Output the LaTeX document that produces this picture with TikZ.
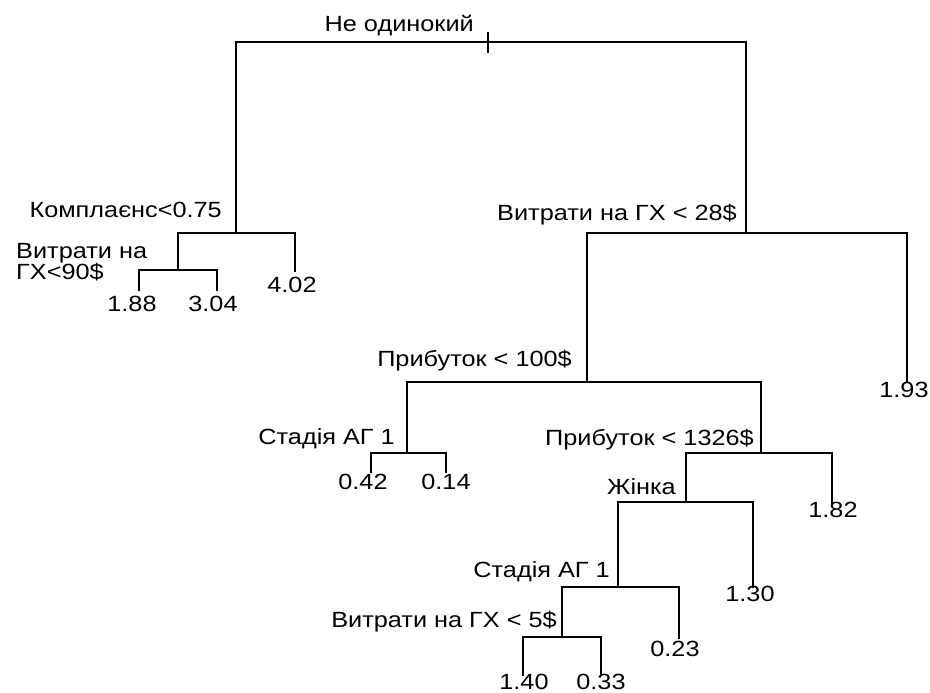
\documentclass[tikz,border=0pt]{standalone}
\usepackage{fontspec}
\setmainfont[FakeStretch=1.15]{Liberation Sans}
\begin{document}
\begin{tikzpicture}[x=1pt,y=-1pt,line cap=rect,line join=miter,
	cond/.style={inner sep=0pt,font=\fontsize{22pt}{21pt}\selectfont},
	leaf/.style={inner sep=0pt,font=\fontsize{22pt}{21pt}\selectfont},
	edge/.style={line width=1.5pt,color=black}]
	\useasboundingbox (0,0) rectangle (930,693);
	% split points
	\coordinate (root) at (488,42);
	\coordinate (n1) at (236,233);
	\coordinate (n2) at (178,270);
	\coordinate (n3) at (746,233);
	\coordinate (n4) at (587,382);
	\coordinate (n5) at (407,453);
	\coordinate (n6) at (761,453);
	\coordinate (n7) at (686,502);
	\coordinate (n8) at (618,587);
	\coordinate (n9) at (562,637);
	% leaf ends
	\coordinate (l188) at (139,290);
	\coordinate (l304) at (217,290);
	\coordinate (l402) at (295,271);
	\coordinate (l193) at (907,382);
	\coordinate (l042) at (371,472);
	\coordinate (l014) at (446,472);
	\coordinate (l182) at (832,503);
	\coordinate (l130) at (753,587);
	\coordinate (l023) at (679,638);
	\coordinate (l140) at (523,675);
	\coordinate (l033) at (601,675);
	% branches
	\foreach \p/\c in {root/n1,root/n3,n1/n2,n1/l402,n2/l188,n2/l304,
		n3/n4,n3/l193,n4/n5,n4/n6,n5/l042,n5/l014,n6/n7,n6/l182,
		n7/n8,n7/l130,n8/n9,n8/l023,n9/l140,n9/l033}
	\draw[edge] (\p) -| (\c);
	\draw[edge] (root) ++(0,-9) -- ++(0,19);
	% split labels
	\node[cond,anchor=base east] (troot) at (474,32) {Не одинокий};
	\node[cond,anchor=base east] (t1) at (222,217) {Комплаєнс<0.75};
	\node[cond,anchor=base west,align=left] (t2) at (16,279) {Витрати на\\ГХ<90\$};
	\node[cond,anchor=base east] (t3) at (737,220) {Витрати на ГХ < 28\$};
	\node[cond,anchor=base east] (t4) at (572,366) {Прибуток < 100\$};
	\node[cond,anchor=base east] (t5) at (395,444) {Стадія АГ 1};
	\node[cond,anchor=base east] (t6) at (754,445) {Прибуток < 1326\$};
	\node[cond,anchor=base east] (t7) at (676,494) {Жінка};
	\node[cond,anchor=base east] (t8) at (610,577) {Стадія АГ 1};
	\node[cond,anchor=base east] (t9) at (557,627) {Витрати на ГХ < 5\$};
	% leaf values
	\node[leaf] (v188) at (132,304) {1.88};
	\node[leaf] (v304) at (213,304) {3.04};
	\node[leaf] (v402) at (292,285) {4.02};
	\node[leaf] (v193) at (904,390) {1.93};
	\node[leaf] (v042) at (363,482) {0.42};
	\node[leaf] (v014) at (446,482) {0.14};
	\node[leaf] (v182) at (833,510) {1.82};
	\node[leaf] (v130) at (750,594) {1.30};
	\node[leaf] (v023) at (675,649) {0.23};
	\node[leaf] (v140) at (524,682) {1.40};
	\node[leaf] (v033) at (601,682) {0.33};
\end{tikzpicture}
\end{document}
